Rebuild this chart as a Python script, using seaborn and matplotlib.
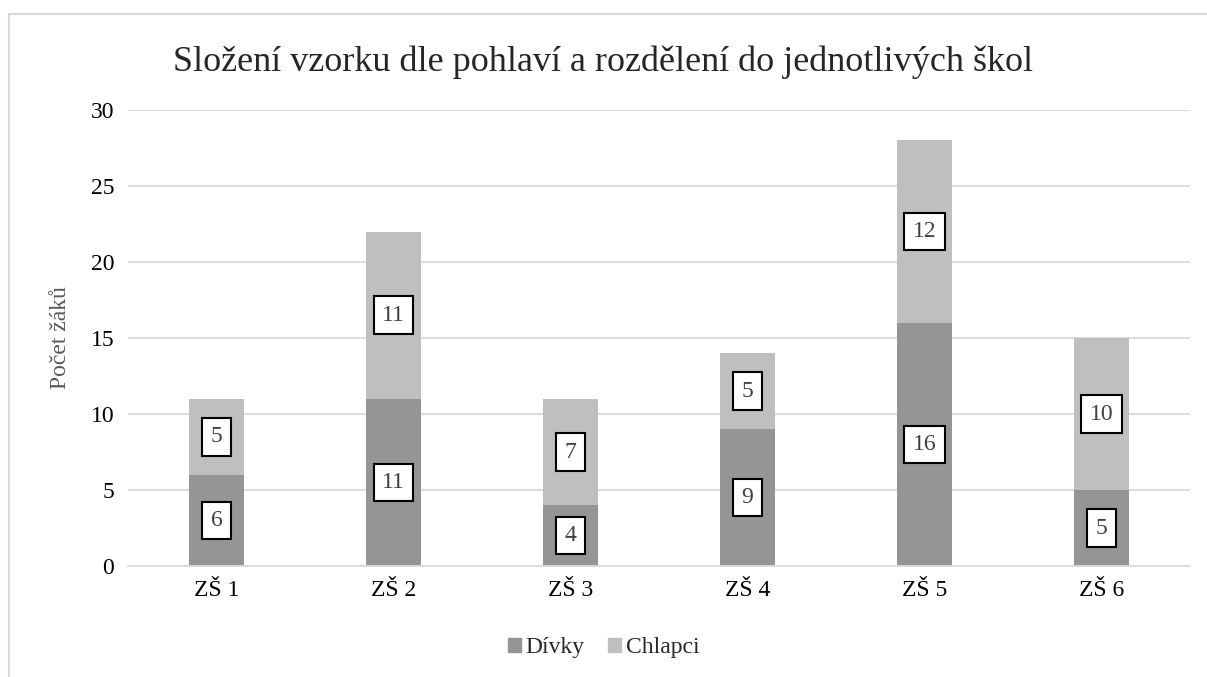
import matplotlib.pyplot as plt
import matplotlib.patches as mpatches
import seaborn as sns
import pandas as pd

# Data
schools = ["ZŠ 1", "ZŠ 2", "ZŠ 3", "ZŠ 4", "ZŠ 5", "ZŠ 6"]
girls = [6, 11, 4, 9, 16, 5]
boys = [5, 11, 7, 5, 12, 10]
totals = [g + b for g, b in zip(girls, boys)]

dark = "#959595"
light = "#bfbfbf"

sns.set_theme(style="white")
plt.rcParams['font.family'] = ['Liberation Serif', 'DejaVu Serif']

df = pd.DataFrame({"Škola": schools, "Dívky": girls, "Chlapci": boys, "Celkem": totals})

fig = plt.figure(figsize=(12.07, 6.77), dpi=100)
ax = fig.add_axes([128 / 1207, 1 - 566 / 677, (1190 - 128) / 1207, (566 - 110) / 677])

# chart frame (cut off at right and bottom like the original)
fig.patches.append(mpatches.Rectangle((9 / 1207, -0.1), 1.2, 1 - 14 / 677 + 0.1,
                                      transform=fig.transFigure, fill=False,
                                      edgecolor="#d9d9d9", linewidth=1.5))

# stacked bars: totals in light grey, girls drawn on top in dark grey
sns.barplot(data=df, x="Škola", y="Celkem", color=light, width=0.31, ax=ax,
            saturation=1, linewidth=0)
sns.barplot(data=df, x="Škola", y="Dívky", color=dark, width=0.31, ax=ax,
            saturation=1, linewidth=0)

box = dict(boxstyle="square,pad=0.35", facecolor="white", edgecolor="black", linewidth=1.5)
for i in range(len(schools)):
    ax.text(i, girls[i] / 2, str(girls[i]), ha="center", va="center",
            fontsize=17, color="#404040", bbox=box)
    ax.text(i, girls[i] + boys[i] / 2, str(boys[i]), ha="center", va="center",
            fontsize=17, color="#404040", bbox=box)

ax.set_ylim(0, 30)
ax.set_yticks(range(0, 31, 5))
ax.set_xlim(-0.5, 5.5)
ax.yaxis.grid(True, color="#d9d9d9", linewidth=1.3)
ax.set_axisbelow(True)
for s in ["top", "right", "left"]:
    ax.spines[s].set_visible(False)
ax.spines["bottom"].set_color("#d9d9d9")
ax.spines["bottom"].set_linewidth(1.3)
ax.tick_params(axis="both", length=0, labelsize=17, colors="black", pad=10)
ax.set_xlabel("")
ax.set_ylabel("Počet žáků", fontsize=17, color="#595959", labelpad=14)

fig.suptitle("Složení vzorku dle pohlaví a rozdělení do jednotlivých škol",
             fontsize=26, x=0.5, y=1 - 62 / 677, va="center")

handles = [mpatches.Patch(color=dark, label="Dívky"),
           mpatches.Patch(color=light, label="Chlapci")]
fig.legend(handles=handles, loc="center", bbox_to_anchor=(0.5, 1 - 648 / 677),
           ncol=2, frameon=False, fontsize=17, handlelength=0.55, handleheight=0.55,
           handletextpad=0.2, columnspacing=1.0)

fig.savefig("out.png", dpi=100)
